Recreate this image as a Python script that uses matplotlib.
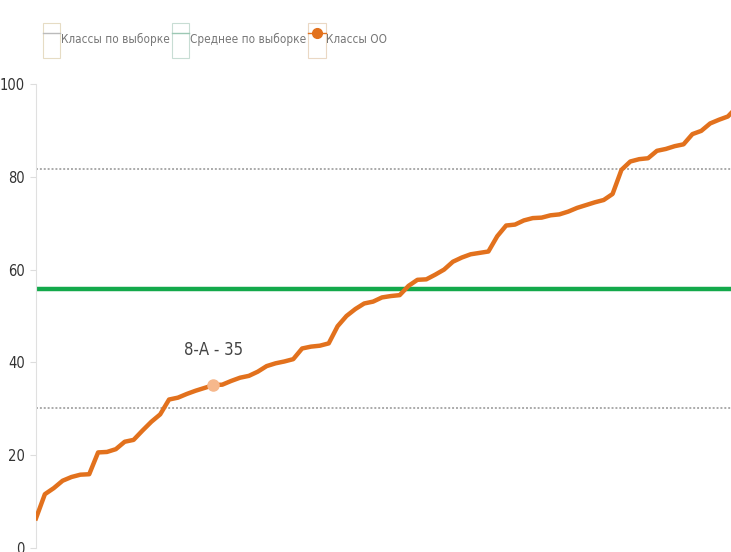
import matplotlib
matplotlib.use("Agg")
import matplotlib.pyplot as plt
from matplotlib.legend_handler import HandlerTuple
from matplotlib.lines import Line2D
from matplotlib.patches import Rectangle

# Class scores sorted ascending (one point per class)
class_scores = [
    6.4, 11.6, 12.9, 14.5, 15.3, 15.8, 15.9, 20.6, 20.7, 21.3,
    22.9, 23.3, 25.3, 27.2, 28.8, 32.0, 32.4, 33.2, 33.9, 34.5,
    35.1, 35.2, 36.0, 36.7, 37.1, 38.0, 39.2, 39.8, 40.2, 40.7,
    43.0, 43.4, 43.6, 44.1, 47.8, 50.0, 51.5, 52.7, 53.1, 54.0,
    54.3, 54.5, 56.5, 57.8, 57.9, 58.9, 60.0, 61.7, 62.6, 63.3,
    63.6, 63.9, 67.2, 69.5, 69.7, 70.6, 71.1, 71.2, 71.7, 71.9,
    72.5, 73.3, 73.9, 74.5, 75.0, 76.3, 81.5, 83.3, 83.8, 84.0,
    85.6, 86.0, 86.6, 87.0, 89.2, 89.9, 91.5, 92.3, 93.0, 95.0,
]
highlight_index = 20
highlight_label = "8-А - 35"
sample_mean = 55.8
sample_band = [30.1, 81.6]
y_ticks = [0, 20, 40, 60, 80, 100]
legend_labels = ["Классы по выборке", "Среднее по выборке", "Классы ОО"]

ORANGE = "#E2711D"
GREEN = "#13A94B"
PEACH = "#F6B88C"

plt.rcParams["font.family"] = ["DejaVu Sans"]
plt.rcParams["font.stretch"] = "condensed"

fig = plt.figure(figsize=(7.31, 5.52), dpi=100)
ax = fig.add_axes([36 / 731, 4 / 552, 1 - 36 / 731, 464 / 552])

x = list(range(len(class_scores)))
for level in sample_band:
    ax.axhline(level, color="#AAAAAA", lw=1.4, ls=(0, (1, 1)), zorder=1)
ax.axhline(sample_mean, color=GREEN, lw=3.2, zorder=2)
ax.plot(x, class_scores, color=ORANGE, lw=3.2, solid_joinstyle="round", zorder=3)

hx, hy = x[highlight_index], class_scores[highlight_index]
ax.plot([hx], [hy], marker="o", ms=8, color=PEACH, mec=PEACH, zorder=4)
ax.annotate(highlight_label, (hx, hy), xytext=(0, 25), textcoords="offset points",
            ha="center", va="center", fontsize=12, color="#444444")

ax.set_xlim(0, 78.35)
ax.set_ylim(0, 100)
ax.set_yticks(y_ticks)
ax.set_xticks([])
ax.tick_params(axis="y", length=4, color="#DDDDDD", labelsize=10.5,
               labelcolor="#333333", pad=4)
for side in ["top", "right", "bottom"]:
    ax.spines[side].set_visible(False)
ax.spines["left"].set_color("#E0E0E0")


def legend_box(edge, line):
    box = Rectangle((0, 0), 1, 1, facecolor="none", edgecolor=edge, lw=0.8)
    return (box, line)


handles = [
    legend_box("#E6DCC4", Line2D([], [], color="#BBBBBB", lw=1)),
    legend_box("#C8DDD4", Line2D([], [], color="#9CC8B4", lw=1)),
    legend_box("#EAD8C4", Line2D([], [], color=ORANGE, lw=1, marker="o", ms=7)),
]
fig.legend(handles, legend_labels, loc="upper left", bbox_to_anchor=(38 / 731, 1 - 18 / 552),
           ncol=3, frameon=False, fontsize=8.5, handlelength=1.5, handleheight=4.2,
           handletextpad=0.05, columnspacing=0.15, labelcolor="#777777", borderaxespad=0,
           handler_map={tuple: HandlerTuple(ndivide=1)})

fig.savefig("out.png", dpi=100)
